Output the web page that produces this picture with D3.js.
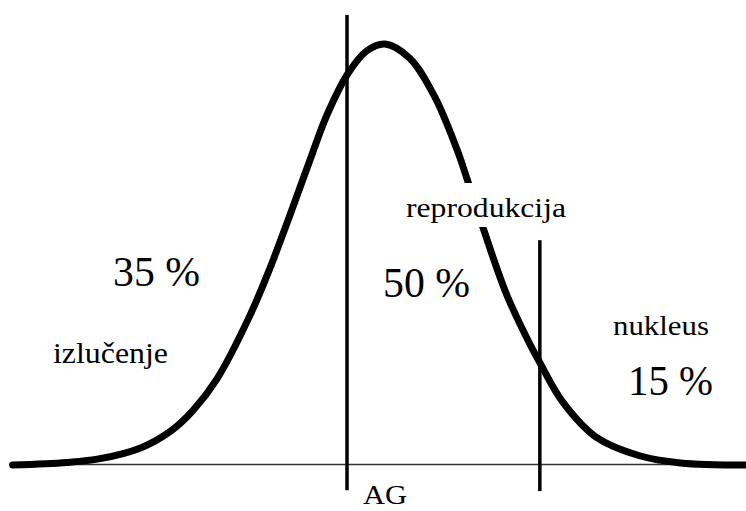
<!DOCTYPE html>
<html lang="hr">
<head>
  <meta charset="UTF-8">
  <title>Selekcija - normalna raspodjela</title>
  <style>
    body { margin: 0; background: #fff; }
    .curve { fill: none; stroke: #000; stroke-width: 7; stroke-linecap: round; stroke-linejoin: round; }
    .cut { stroke: #000; stroke-width: 3.5; }
    .base { stroke: #333; stroke-width: 1.5; }
  </style>
</head>
<body>
  <div id="chart"></div>

  <script src="https://d3js.org/d3.v7.min.js"></script>
  <script>
    // curve (x in sd units, y relative to peak)
    const curveX = [-3.92, -3.35, -3.0, -2.58, -2.26, -2.02, -1.77, -1.42, -1.21, -1.0, -0.76, -0.61, -0.39, -0.19, 0,
                    0.26, 0.52, 0.76, 0.86, 1.03, 1.28, 1.53, 1.63, 1.87, 2.23, 2.68, 3.11, 3.8];
    const curveY = [0, 0.006, 0.015, 0.04, 0.08, 0.13, 0.204, 0.356, 0.468, 0.594, 0.743, 0.832, 0.93, 0.984, 1.0,
                    0.966, 0.876, 0.748, 0.682, 0.565, 0.405, 0.285, 0.243, 0.15, 0.065, 0.022, 0.005, 0];

    // truncation points (vertical lines)
    const cutX = [-0.4, 1.63];
    const cutTop = [1.069, 0.534];
    const cutBottom = [-0.06, -0.062];

    // baseline extent
    const baseX = [-3.95, 3.8];

    // labels
    const labelText = ["35 %", "izlučenje", "reprodukcija", "50 %", "nukleus", "15 %", "AG"];

    const W = 746, H = 511;
    const svg = d3.select("#chart").append("svg")
      .attr("width", W)
      .attr("height", H);

    const x = d3.scaleLinear().domain([-4, 4]).range([5, 765]);
    const y = d3.scaleLinear().domain([0, 1]).range([465, 44]);

    // baseline
    svg.append("line")
      .attr("class", "base")
      .attr("x1", x(baseX[0])).attr("x2", x(baseX[1]))
      .attr("y1", y(0) - 0.5).attr("y2", y(0) - 0.5);

    // bell curve
    const line = d3.line()
      .x((d, i) => x(curveX[i]))
      .y(d => y(d))
      .curve(d3.curveCatmullRom.alpha(0.5));

    svg.append("path")
      .datum(curveY)
      .attr("class", "curve")
      .attr("d", line);

    // vertical cut lines
    svg.selectAll(".cut")
      .data(cutX)
      .join("line")
      .attr("class", "cut")
      .attr("x1", d => x(d)).attr("x2", d => x(d))
      .attr("y1", (d, i) => y(cutTop[i]))
      .attr("y2", (d, i) => y(cutBottom[i]));

    // label layout: [x start, baseline y, width, font size]
    const labelPos = [
      [113, 286, 87, 42],
      [53, 363, 115, 29],
      [406, 217, 160, 28],
      [383, 297, 87, 42],
      [613, 335, 96, 28],
      [628, 395, 85, 42],
      [363, 504, 44, 27]
    ];

    const g = svg.append("g");
    labelText.forEach((t, i) => {
      const p = labelPos[i];
      if (t === "reprodukcija") {
        // white box masks the curve behind this label
        g.append("rect")
          .attr("x", p[0] - 2).attr("y", 183)
          .attr("width", p[2] + 4).attr("height", 44)
          .attr("fill", "#fff");
      }
      g.append("text")
        .attr("x", p[0])
        .attr("y", p[1])
        .style("font-family", "'Liberation Serif'")
        .attr("fill", "#000")
        .attr("font-size", p[3])
        .attr("textLength", p[2])
        .attr("lengthAdjust", "spacingAndGlyphs")
        .text(t);
    });
  </script>
</body>
</html>
